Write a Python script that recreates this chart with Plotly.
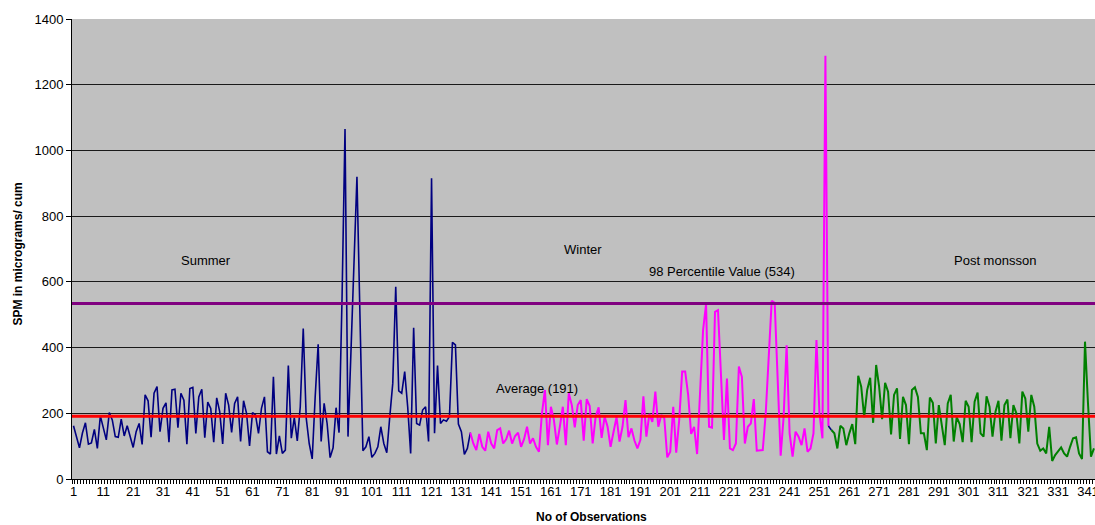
import plotly.graph_objects as go

# SPM readings (micrograms / cum)
summer_spm = [162, 128, 95, 140, 171, 106, 110, 151, 93, 192,
              159, 119, 202, 180, 129, 127, 182, 131, 162, 129,
              96, 144, 169, 105, 256, 238, 127, 261, 281, 144,
              215, 232, 112, 271, 273, 156, 261, 240, 106, 275,
              279, 139, 250, 273, 126, 234, 215, 112, 247, 205,
              107, 261, 225, 142, 230, 250, 114, 238, 200, 101,
              202, 195, 139, 215, 250, 83, 76, 311, 76, 131,
              78, 88, 345, 124, 187, 116, 220, 458, 185, 108,
              61, 250, 410, 114, 230, 169, 65, 95, 217, 141,
              550, 1065, 129, 390, 650, 920, 500, 86, 98, 129,
              66, 78, 98, 159, 108, 80, 190, 291, 585, 268,
              261, 327, 220, 78, 460, 169, 164, 210, 220, 114,
              915, 139, 345, 169, 180, 176, 190, 416, 408, 167,
              144, 75, 93, 141]            # obs 1-134

winter_spm = [141, 108, 88, 137, 98, 86, 144, 108, 93, 149,
              154, 108, 121, 147, 108, 131, 141, 98, 121, 159,
              108, 124, 98, 83, 200, 271, 103, 220, 180, 105,
              159, 220, 103, 261, 225, 157, 225, 240, 117, 243,
              222, 108, 190, 218, 125, 190, 159, 98, 144, 188,
              114, 159, 240, 127, 154, 117, 93, 119, 252, 129,
              198, 174, 266, 159, 195, 185, 66, 83, 220, 80,
              180, 327, 327, 256, 137, 159, 76, 256, 453, 532,
              159, 156, 509, 514, 301, 119, 306, 93, 88, 108,
              342, 311, 108, 159, 169, 243, 86, 86, 88, 200,
              392, 542, 536, 271, 71, 190, 407, 139, 68, 144,
              129, 103, 154, 83, 93, 139, 423, 200, 124, 1288,
              161]                          # obs 134-254

transition_spm = [161, 149]                 # obs 254-255

post_monsoon_spm = [149, 139, 93, 162, 154, 103, 139, 167, 106, 314,
                    281, 188, 271, 308, 171, 347, 281, 182, 293, 266,
                    136, 256, 276, 122, 250, 225, 106, 271, 279, 250,
                    139, 139, 88, 248, 232, 108, 225, 159, 103, 230,
                    256, 114, 188, 167, 112, 238, 220, 112, 235, 263,
                    139, 129, 252, 220, 129, 205, 238, 117, 225, 242,
                    124, 225, 200, 108, 266, 245, 144, 256, 220, 108,
                    86, 93, 78, 159, 55, 73, 83, 96, 78, 68,
                    98, 124, 127, 78, 61, 418, 230, 68, 93]   # obs 255-343

average_spm = 191
percentile98_spm = 534
x_tick_labels = [1, 11, 21, 31, 41, 51, 61, 71, 81, 91, 101, 111, 121, 131,
                 141, 151, 161, 171, 181, 191, 201, 211, 221, 231, 241, 251,
                 261, 271, 281, 291, 301, 311, 321, 331, 341]
y_ticks = [0, 200, 400, 600, 800, 1000, 1200, 1400]

summer_obs = list(range(1, 1 + len(summer_spm)))
winter_obs = list(range(134, 134 + len(winter_spm)))
transition_obs = list(range(254, 254 + len(transition_spm)))
post_obs = list(range(255, 255 + len(post_monsoon_spm)))

FONT = "Liberation Sans, Arial, sans-serif"

fig = go.Figure()
fig.add_trace(go.Scatter(x=summer_obs, y=summer_spm, mode="lines",
                         line=dict(color="#000080", width=1.6), name="Summer"))
fig.add_trace(go.Scatter(x=winter_obs, y=winter_spm, mode="lines",
                         line=dict(color="#FF00FF", width=2), name="Winter"))
fig.add_trace(go.Scatter(x=transition_obs, y=transition_spm, mode="lines",
                         line=dict(color="#000080", width=1.6), showlegend=False))
fig.add_trace(go.Scatter(x=post_obs, y=post_monsoon_spm, mode="lines",
                         line=dict(color="#008000", width=2), name="Post monsson"))

fig.add_shape(type="line", xref="paper", x0=0, x1=1, yref="y",
              y0=percentile98_spm, y1=percentile98_spm,
              line=dict(color="#800080", width=3), layer="above")
fig.add_shape(type="line", xref="paper", x0=0, x1=1, yref="y",
              y0=average_spm, y1=average_spm,
              line=dict(color="#FF0000", width=3), layer="above")

ann_font = dict(family=FONT, size=13, color="#000000")
fig.add_annotation(x=45.4, y=666, text="Summer", showarrow=False, font=ann_font)
fig.add_annotation(x=171.7, y=697, text="Winter", showarrow=False, font=ann_font)
fig.add_annotation(x=218.3, y=631, text=f"98 Percentile Value ({percentile98_spm})",
                   showarrow=False, font=ann_font)
fig.add_annotation(x=309.8, y=666, text="Post monsson", showarrow=False, font=ann_font)
fig.add_annotation(x=156.5, y=274, text=f"Average ({average_spm})",
                   showarrow=False, font=ann_font)

# axis titles
fig.add_annotation(xref="paper", yref="paper", x=0.508, y=-0.0826,
                   text="<b>No of Observations</b>", showarrow=False,
                   font=dict(family=FONT, size=12, color="#000000"),
                   yanchor="middle")
fig.add_annotation(xref="paper", yref="paper", x=-0.0528, y=0.49,
                   text="<b>SPM in micrograms/ cum</b>", showarrow=False,
                   textangle=-90, xanchor="center", yanchor="middle",
                   font=dict(family=FONT, size=12, color="#000000"))

fig.update_layout(
    width=1095, height=525,
    margin=dict(l=72, r=0, t=19, b=46, autoexpand=False),
    paper_bgcolor="#FFFFFF",
    plot_bgcolor="#C0C0C0",
    showlegend=False,
    font=dict(family=FONT, size=13, color="#000000"),
)
fig.update_xaxes(
    range=[0.5, 343.35], automargin=False,
    tickmode="array", tickvals=x_tick_labels, ticktext=[str(v) for v in x_tick_labels],
    ticks="", showgrid=False, zeroline=False, ticklabeloverflow="allow",
    showline=True, linecolor="#000000", linewidth=1,
    minor=dict(ticks="outside", ticklen=4, tickcolor="#000000", tickmode="linear",
               tick0=0.5, dtick=1, showgrid=False),
    tickfont=dict(family=FONT, size=13),
)
fig.update_yaxes(
    range=[0, 1400], automargin=False, tickmode="array", tickvals=y_ticks,
    ticks="outside", ticklen=5, tickcolor="#000000",
    showgrid=True, gridcolor="#1a1a1a", gridwidth=1,
    zeroline=False, showline=True, linecolor="#000000", linewidth=1,
    tickfont=dict(family=FONT, size=13),
)

fig.write_html(
    "out.html",
    config={"displayModeBar": False},
    post_script="document.body.style.margin='0';document.body.style.overflow='hidden';",
)
